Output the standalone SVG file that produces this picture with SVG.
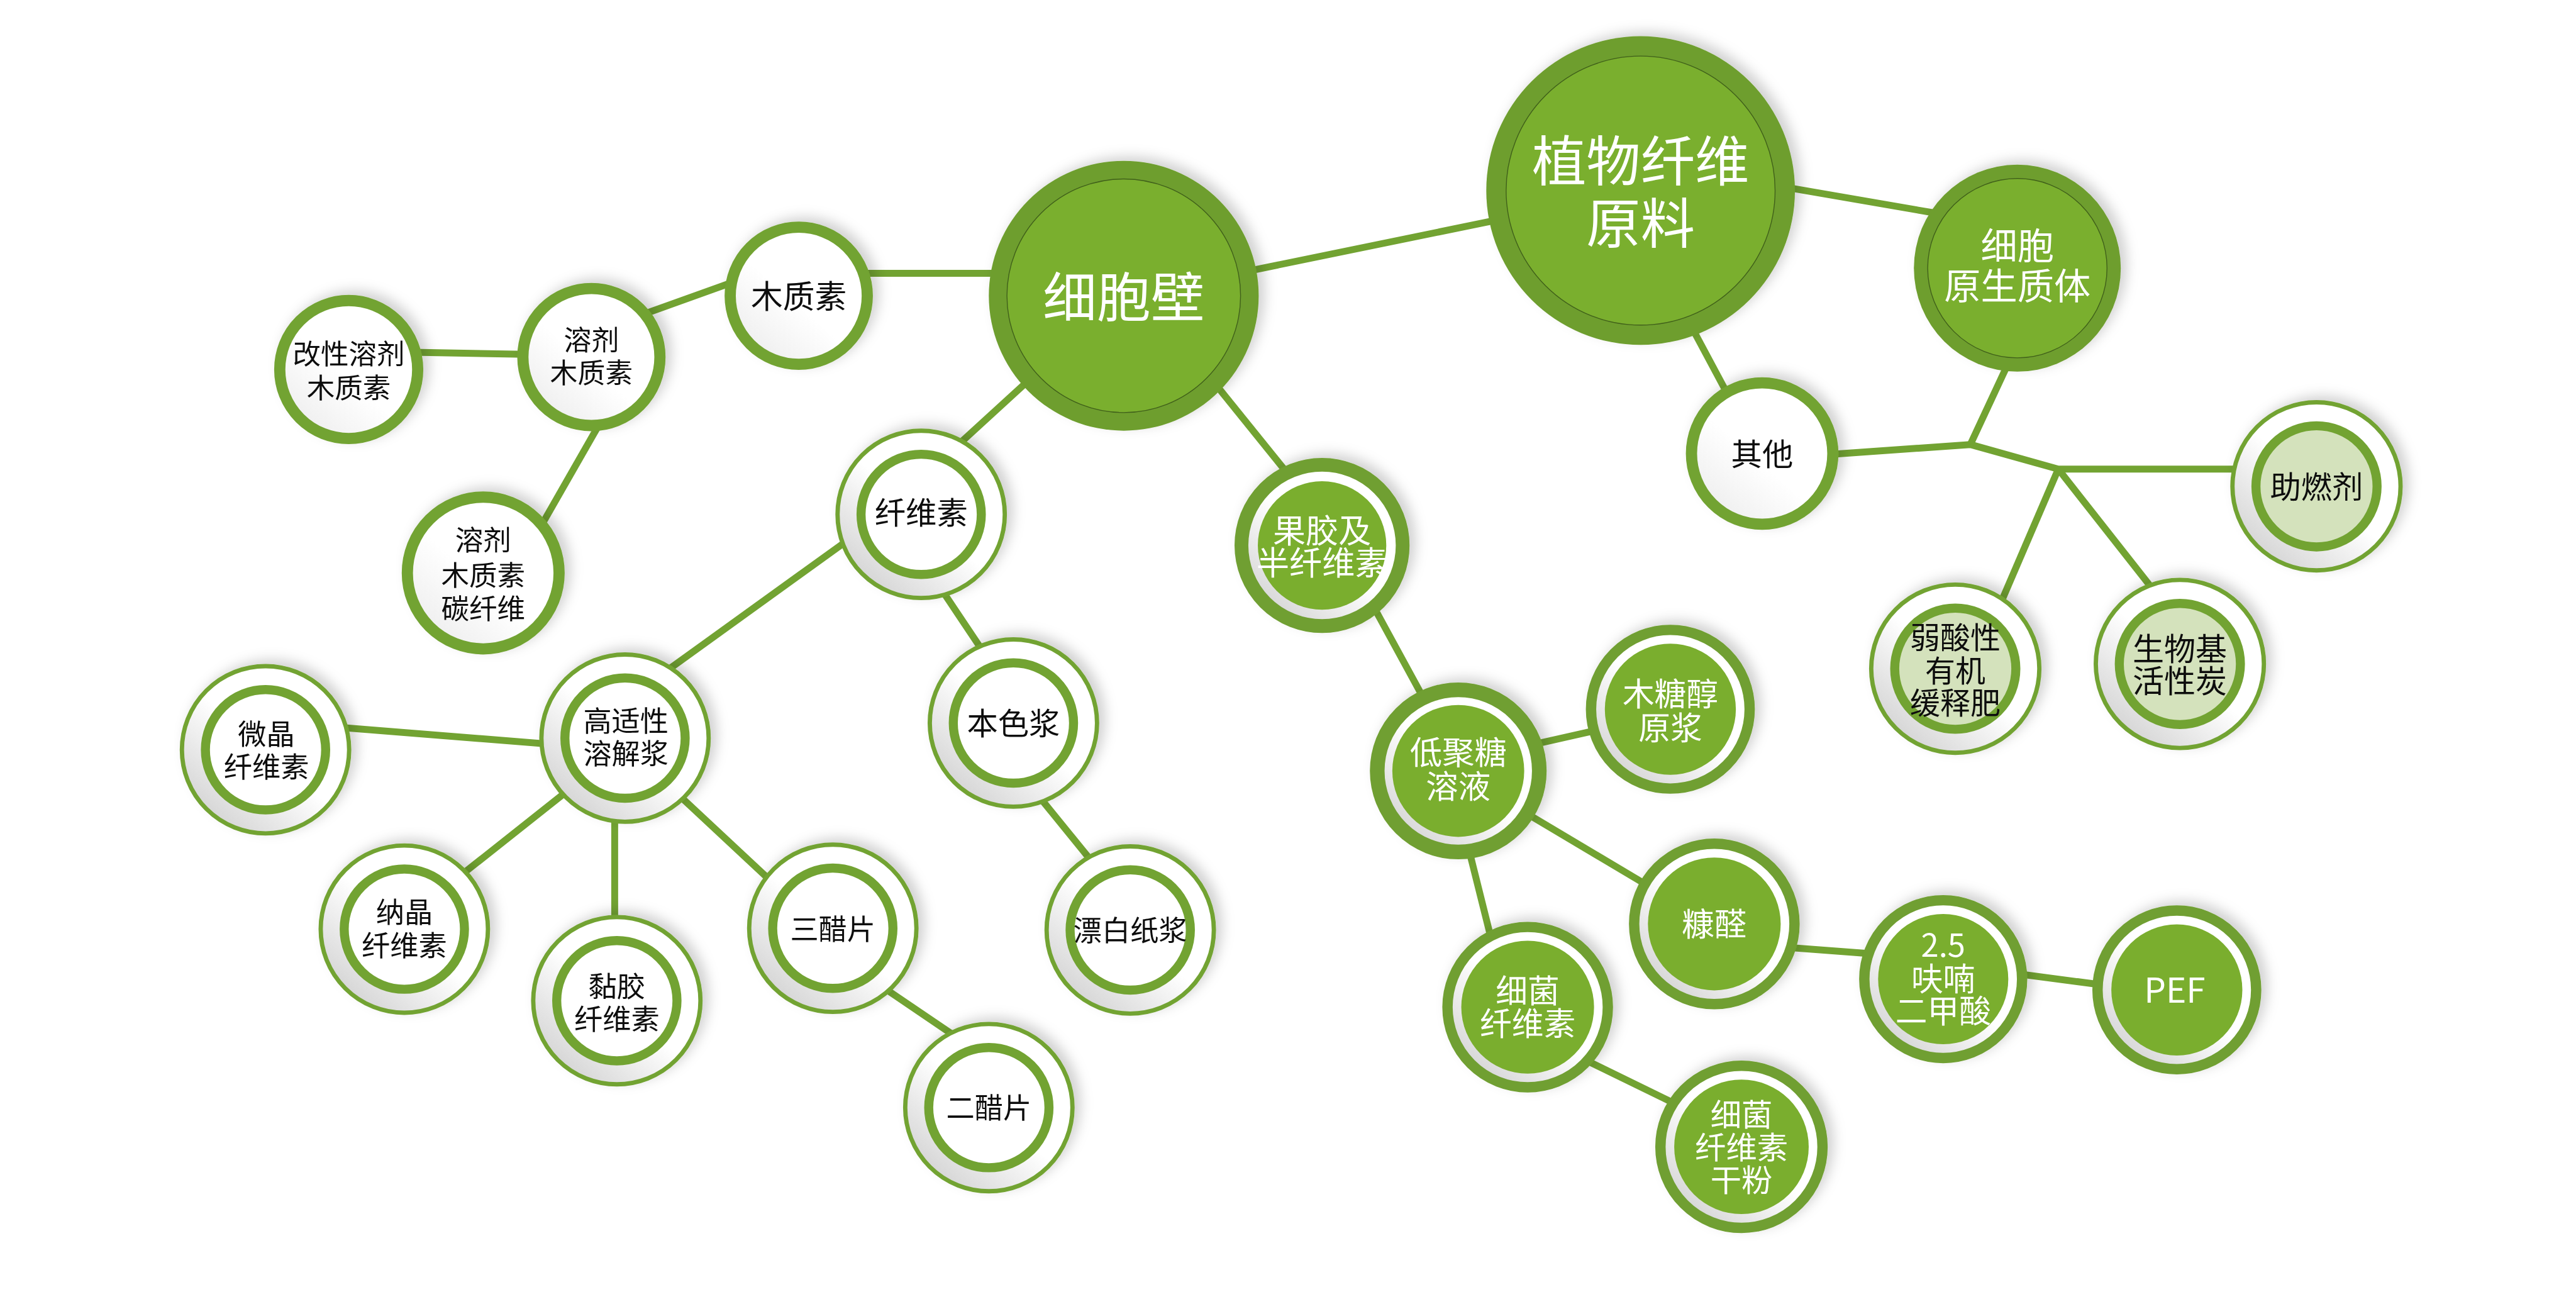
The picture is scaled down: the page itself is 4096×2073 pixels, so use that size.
<svg xmlns="http://www.w3.org/2000/svg" width="4096" height="2073" viewBox="0 0 4096 2073">
<defs>
<style>
.ln{fill:none;stroke:#72a332;stroke-width:16;stroke-linejoin:round}
.a-out{fill:#6e9e2f}
.a-in{fill:#7aaf2d;stroke:#3f5f1a;stroke-width:2}
.b-ring{fill:url(#soft);stroke:#72a332;stroke-width:26}
.c-thin{fill:url(#gap);stroke:#72a332;stroke-width:10}
.c-thick{fill:#ffffff;stroke:#72a332;stroke-width:21}
.e-thick{fill:#d4e2bc;stroke:#72a332;stroke-width:21}
.d-ring{fill:url(#gap);stroke:#6f9f30}
.d-in{fill:#7aae2e}
.t{font-family:"Noto Sans CJK SC","Noto Sans",sans-serif;text-anchor:middle}
.tw{fill:#ffffff}
.tb{fill:#111111}
</style>
<linearGradient id="gap" x1="0.85" y1="0.1" x2="0.15" y2="0.9">
<stop offset="0.5" stop-color="#ffffff"/>
<stop offset="1" stop-color="#d4d4d4"/>
</linearGradient>
<linearGradient id="soft" x1="0.85" y1="0.1" x2="0.15" y2="0.9">
<stop offset="0.55" stop-color="#ffffff"/>
<stop offset="1" stop-color="#eeeeee"/>
</linearGradient>
<filter id="sh" x="-20%" y="-20%" width="140%" height="140%">
<feDropShadow dx="14" dy="-10" stdDeviation="14" flood-color="#000000" flood-opacity="0.18"/>
</filter>
</defs>
<rect width="4096" height="2073" fill="#ffffff"/>
<g transform="scale(0.685408)">
<g id="connectors">
<line class="ln" x1="2607" y1="688" x2="3806" y2="442"/>
<line class="ln" x1="4100" y1="427" x2="4500" y2="496"/>
<line class="ln" x1="3869" y1="655" x2="4059" y2="1010"/>
<path class="ln" d="M4089,1065 L4571,1031 L4775,1088 L5300,1088"/>
<path class="ln" d="M4571,1031 L4716,720"/>
<path class="ln" d="M4775,1088 L4585,1530"/>
<path class="ln" d="M4775,1088 L5040,1425"/>
<line class="ln" x1="1900" y1="634" x2="2400" y2="634"/>
<line class="ln" x1="1420" y1="755" x2="1760" y2="633"/>
<line class="ln" x1="900" y1="816" x2="1280" y2="823"/>
<line class="ln" x1="1420" y1="932" x2="1230" y2="1264"/>
<line class="ln" x1="2440" y1="833" x2="2180" y2="1071"/>
<line class="ln" x1="2760" y1="817" x2="3020" y2="1139"/>
<line class="ln" x1="2000" y1="1229" x2="1520" y2="1575"/>
<line class="ln" x1="2170" y1="1346" x2="2330" y2="1585"/>
<line class="ln" x1="2380" y1="1810" x2="2590" y2="2068"/>
<line class="ln" x1="700" y1="1680" x2="1400" y2="1736"/>
<line class="ln" x1="1380" y1="1784" x2="1000" y2="2085"/>
<line class="ln" x1="1426" y1="1800" x2="1426" y2="2200"/>
<line class="ln" x1="1520" y1="1793" x2="1850" y2="2101"/>
<line class="ln" x1="1990" y1="2250" x2="2230" y2="2413"/>
<line class="ln" x1="3150" y1="1340" x2="3330" y2="1670"/>
<line class="ln" x1="3450" y1="1751" x2="3800" y2="1672"/>
<line class="ln" x1="3480" y1="1850" x2="3900" y2="2100"/>
<line class="ln" x1="3390" y1="1900" x2="3480" y2="2260"/>
<line class="ln" x1="3640" y1="2440" x2="3960" y2="2596"/>
<line class="ln" x1="4050" y1="2190" x2="4420" y2="2218"/>
<line class="ln" x1="4600" y1="2248" x2="4950" y2="2294"/>
</g>

<g id="n-zhiwu" transform="translate(3806,442)" filter="url(#sh)">
<circle r="358" class="a-out"/><circle r="312" class="a-in"/>
<text class="t tw" font-size="126"><tspan x="0" y="-22">植物纤维</tspan><tspan x="0" y="122">原料</tspan></text>
</g>
<g id="n-xibaobi" transform="translate(2607,686)" filter="url(#sh)">
<circle r="313" class="a-out"/><circle r="271" class="a-in"/>
<text class="t tw" font-size="125" x="0" y="49">细胞壁</text>
</g>
<g id="n-yuanshengzhiti" transform="translate(4680,622)" filter="url(#sh)">
<circle r="240" class="a-out"/><circle r="208" class="a-in"/>
<text class="t tw" font-size="85"><tspan x="0" y="-21">细胞</tspan><tspan x="0" y="72">原生质体</tspan></text>
</g>

<g id="n-muzhisu" transform="translate(1853,686)" filter="url(#sh)">
<circle r="159" class="b-ring"/>
<text class="t tb" font-size="74" x="0" y="29">木质素</text>
</g>
<g id="n-rongji" transform="translate(1372,828)" filter="url(#sh)">
<circle r="159" class="b-ring"/>
<text class="t tb" font-size="64"><tspan x="0" y="-15">溶剂</tspan><tspan x="0" y="61">木质素</tspan></text>
</g>
<g id="n-gaixing" transform="translate(809,857)" filter="url(#sh)">
<circle r="160" class="b-ring"/>
<text class="t tb" font-size="65"><tspan x="0" y="-12">改性溶剂</tspan><tspan x="0" y="66">木质素</tspan></text>
</g>
<g id="n-tanxianwei" transform="translate(1121,1329)" filter="url(#sh)">
<circle r="176" class="b-ring"/>
<text class="t tb" font-size="65"><tspan x="0" y="-52">溶剂</tspan><tspan x="0" y="29">木质素</tspan><tspan x="0" y="106">碳纤维</tspan></text>
</g>
<g id="n-qita" transform="translate(4088,1052)" filter="url(#sh)">
<circle r="164" class="b-ring"/>
<text class="t tb" font-size="72" x="0" y="28">其他</text>
</g>

<g id="n-xianweisu" transform="translate(2137,1193)" filter="url(#sh)">
<circle r="194" class="c-thin"/><circle r="139.5" class="c-thick"/>
<text class="t tb" font-size="72" x="0" y="23">纤维素</text>
</g>
<g id="n-gaoshixing" transform="translate(1450,1712)" filter="url(#sh)">
<circle r="194" class="c-thin"/><circle r="139.5" class="c-thick"/>
<text class="t tb" font-size="66"><tspan x="2" y="-15">高适性</tspan><tspan x="2" y="60">溶解浆</tspan></text>
</g>
<g id="n-weijing" transform="translate(616,1739)" filter="url(#sh)">
<circle r="194" class="c-thin"/><circle r="139.5" class="c-thick"/>
<text class="t tb" font-size="66"><tspan x="2" y="-11">微晶</tspan><tspan x="2" y="64">纤维素</tspan></text>
</g>
<g id="n-najing" transform="translate(938,2155)" filter="url(#sh)">
<circle r="194" class="c-thin"/><circle r="139.5" class="c-thick"/>
<text class="t tb" font-size="66"><tspan x="0" y="-14">纳晶</tspan><tspan x="0" y="62">纤维素</tspan></text>
</g>
<g id="n-nianjiao" transform="translate(1431,2321)" filter="url(#sh)">
<circle r="194" class="c-thin"/><circle r="139.5" class="c-thick"/>
<text class="t tb" font-size="66"><tspan x="0" y="-8">黏胶</tspan><tspan x="0" y="68">纤维素</tspan></text>
</g>
<g id="n-sancupian" transform="translate(1932,2153)" filter="url(#sh)">
<circle r="194" class="c-thin"/><circle r="139.5" class="c-thick"/>
<text class="t tb" font-size="66" x="0" y="27">三醋片</text>
</g>
<g id="n-ercupian" transform="translate(2294,2569)" filter="url(#sh)">
<circle r="194" class="c-thin"/><circle r="139.5" class="c-thick"/>
<text class="t tb" font-size="66" x="0" y="25">二醋片</text>
</g>
<g id="n-bensejiang" transform="translate(2351,1677)" filter="url(#sh)">
<circle r="194" class="c-thin"/><circle r="139.5" class="c-thick"/>
<text class="t tb" font-size="72" x="0" y="27">本色浆</text>
</g>
<g id="n-piaobai" transform="translate(2622,2157)" filter="url(#sh)">
<circle r="194" class="c-thin"/><circle r="139.5" class="c-thick"/>
<text class="t tb" font-size="66" x="0" y="25">漂白纸浆</text>
</g>

<g id="n-guojiao" transform="translate(3067,1265)" filter="url(#sh)">
<circle r="187" class="d-ring" stroke-width="32"/><circle r="149" class="d-in"/>
<text class="t tw" font-size="76"><tspan x="0" y="-6">果胶及</tspan><tspan x="0" y="69">半纤维素</tspan></text>
</g>
<g id="n-dijutang" transform="translate(3383,1788)" filter="url(#sh)">
<circle r="188" class="d-ring" stroke-width="34"/><circle r="153" class="d-in"/>
<text class="t tw" font-size="75"><tspan x="0" y="-15">低聚糖</tspan><tspan x="0" y="64">溶液</tspan></text>
</g>
<g id="n-mutangchun" transform="translate(3875,1645)" filter="url(#sh)">
<circle r="184" class="d-ring" stroke-width="24"/><circle r="152" class="d-in"/>
<text class="t tw" font-size="74"><tspan x="0" y="-8">木糖醇</tspan><tspan x="0" y="71">原浆</tspan></text>
</g>
<g id="n-kangquan" transform="translate(3977,2143)" filter="url(#sh)">
<circle r="186" class="d-ring" stroke-width="24"/><circle r="154" class="d-in"/>
<text class="t tw" font-size="75" x="0" y="28">糠醛</text>
</g>
<g id="n-xijun" transform="translate(3544,2336)" filter="url(#sh)">
<circle r="186" class="d-ring" stroke-width="24"/><circle r="154" class="d-in"/>
<text class="t tw" font-size="74"><tspan x="0" y="-10">细菌</tspan><tspan x="0" y="66">纤维素</tspan></text>
</g>
<g id="n-ganfen" transform="translate(4040,2660)" filter="url(#sh)">
<circle r="188" class="d-ring" stroke-width="24"/><circle r="156" class="d-in"/>
<text class="t tw" font-size="72"><tspan x="0" y="-49">细菌</tspan><tspan x="0" y="27">纤维素</tspan><tspan x="0" y="103">干粉</tspan></text>
</g>
<g id="n-fdca" transform="translate(4508,2271)" filter="url(#sh)">
<circle r="183" class="d-ring" stroke-width="24"/><circle r="151" class="d-in"/>
<text class="t tw" font-size="74"><tspan x="0" y="-52">2.5</tspan><tspan x="0" y="27">呋喃</tspan><tspan x="0" y="101">二甲酸</tspan></text>
</g>
<g id="n-pef" transform="translate(5050,2296)" filter="url(#sh)">
<circle r="184" class="d-ring" stroke-width="24"/><circle r="152" class="d-in"/>
<text class="t tw" font-size="80" x="-5" y="29">PEF</text>
</g>

<g id="n-zhuranji" transform="translate(5374,1128)" filter="url(#sh)">
<circle r="195" class="c-thin"/><circle r="140.5" class="e-thick"/>
<text class="t tb" font-size="72" x="0" y="27">助燃剂</text>
</g>
<g id="n-huanshifei" transform="translate(4536,1551)" filter="url(#sh)">
<circle r="195" class="c-thin"/><circle r="140.5" class="e-thick"/>
<text class="t tb" font-size="70"><tspan x="0" y="-47">弱酸性</tspan><tspan x="0" y="31">有机</tspan><tspan x="0" y="105">缓释肥</tspan></text>
</g>
<g id="n-huoxingtan" transform="translate(5057,1540)" filter="url(#sh)">
<circle r="195" class="c-thin"/><circle r="140.5" class="e-thick"/>
<text class="t tb" font-size="73"><tspan x="0" y="-8">生物基</tspan><tspan x="0" y="66">活性炭</tspan></text>
</g>
</g>
</svg>
